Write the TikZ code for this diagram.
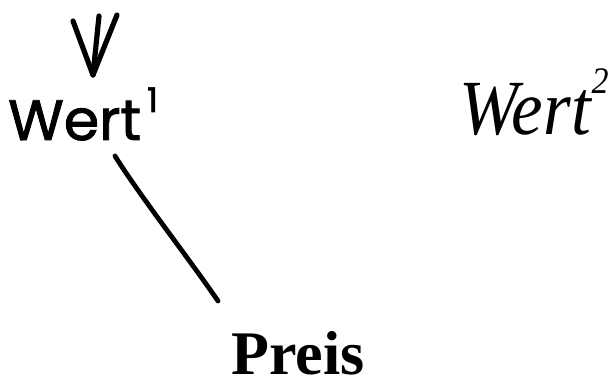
\documentclass[tikz,border=0pt]{standalone}
\usepackage{fontspec}
\setmainfont{Liberation Serif}
\newfontfamily\handfont[FakeBold=1.6]{Poppins}
\usetikzlibrary{calc}
\tikzset{
  hand/.style={line width=5.2pt, line cap=round, line join=round},
  handtext/.style={font=\handfont\fontsize{57}{57}\selectfont, inner sep=0pt},
  printtext/.style={inner sep=0pt},
}
\begin{document}
\begin{tikzpicture}[x=1pt,y=-1pt]
\useasboundingbox (0,0) rectangle (608,379);
% nodes
\node[handtext, anchor=base west] (wert1) at (8,140) {Wert\hspace{6pt}\raisebox{28pt}{\fontsize{34}{34}\selectfont 1}};
\node[printtext, anchor=base west, font=\itshape\fontsize{71}{71}\selectfont] (wert2) at (459,135) {\scalebox{1}[1.1]{Wert\hspace{1pt}\raisebox{38pt}{\fontsize{34}{34}\selectfont 2}}};
\node[printtext, anchor=base west, font=\bfseries\fontsize{62}{62}\selectfont] (preis) at (231,374) {Preis};
% arrow pointing to Wert1
\coordinate (arrtop) at (99,16);
\coordinate (arrtip) at (93,75);
\draw[hand] (arrtop) -- (arrtip);
\draw[hand] ($(arrtip)+(-20,-54)$) -- (arrtip) -- ($(arrtip)+(24,-60)$);
% connector Wert1 -- Preis
\draw[hand, line width=4.8pt] (115,156) .. controls (140,196) and (190,260) .. (218,301);
\end{tikzpicture}
\end{document}
